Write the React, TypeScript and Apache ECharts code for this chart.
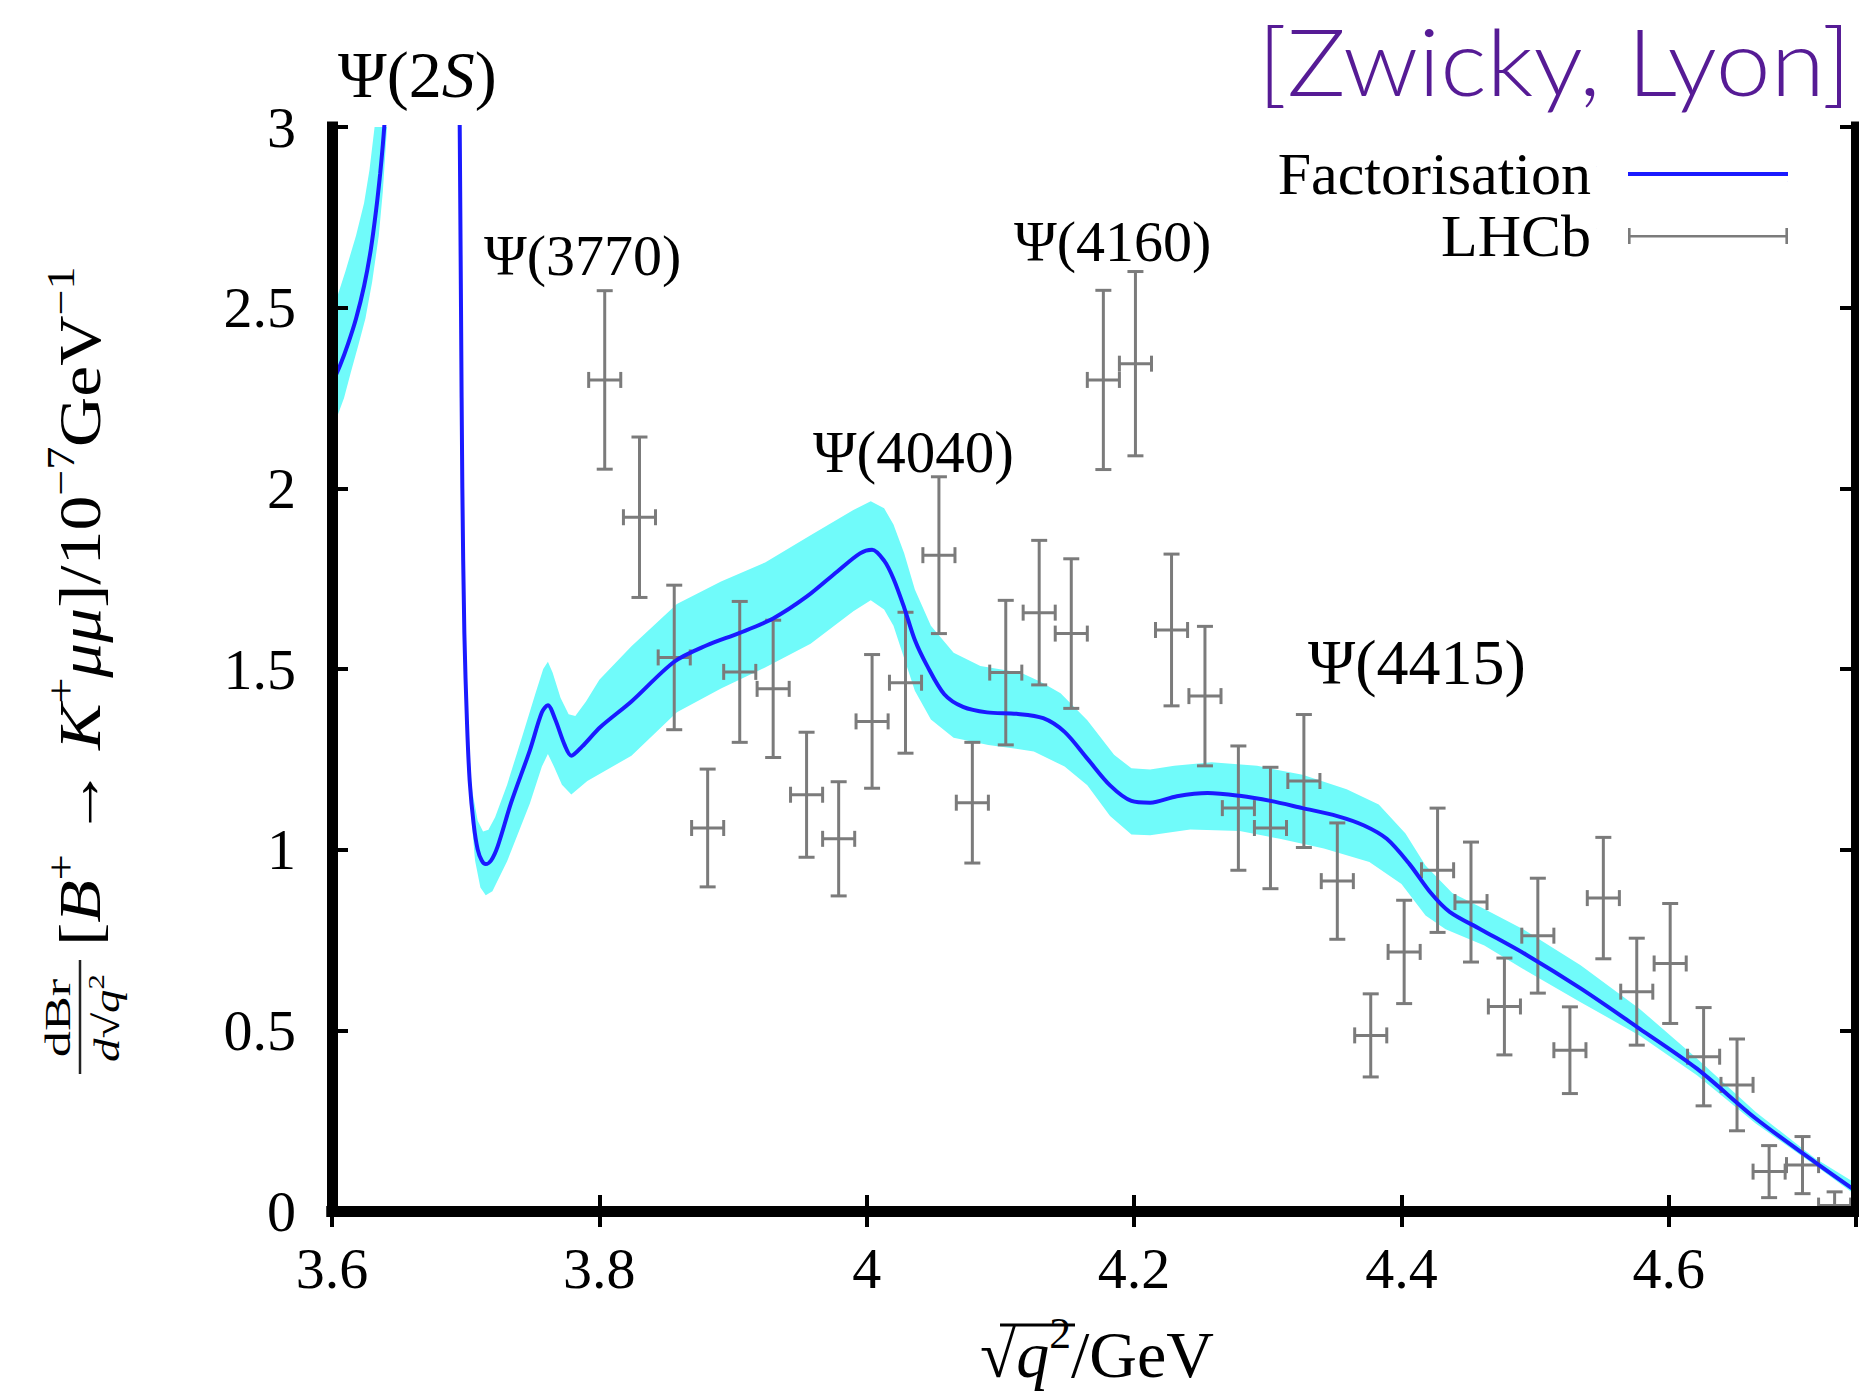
import React, { useEffect, useRef } from 'react';
import * as echarts from 'echarts';

// ---------- data ----------
// LHCb B+ -> K+ mu mu, binned in sqrt(q^2) [GeV]; rate in 1e-7 GeV^-1
const lhcbMass = [
  3.804, 3.830, 3.856, 3.881, 3.905, 3.930, 3.955, 3.979, 4.004, 4.029,
  4.054, 4.079, 4.104, 4.129, 4.153, 4.177, 4.201, 4.228, 4.253, 4.278,
  4.302, 4.327, 4.352, 4.377, 4.402, 4.427, 4.452, 4.477, 4.502, 4.526,
  4.551, 4.576, 4.601, 4.626, 4.651, 4.675, 4.700, 4.724,
];
const lhcbRate = [
  2.30, 1.92, 1.532, 1.06, 1.492, 1.445, 1.152, 1.03, 1.355, 1.462,
  1.815, 1.13, 1.49, 1.656, 1.598, 2.30, 2.345, 1.608, 1.425, 1.115,
  1.06, 1.19, 0.913, 0.486, 0.717, 0.943, 0.855, 0.566, 0.762, 0.445,
  0.866, 0.607, 0.685, 0.427, 0.349, 0.109, 0.127, 0.015,
];
const lhcbErr = [
  0.247, 0.222, 0.2, 0.163, 0.195, 0.19, 0.173, 0.158, 0.185, 0.195,
  0.217, 0.167, 0.2, 0.2, 0.207, 0.248, 0.255, 0.21, 0.193, 0.172,
  0.168, 0.184, 0.161, 0.115, 0.143, 0.172, 0.166, 0.134, 0.159, 0.12,
  0.168, 0.148, 0.166, 0.136, 0.127, 0.072, 0.079, 0.038,
];
const lhcbHalfBin = 0.012;

// Factorisation prediction, below and above the psi(2S) pole
const curveBelowPsi2S: [number, number][] = [
  [3.600, 2.29], [3.606, 2.34], [3.612, 2.40], [3.618, 2.47], [3.624, 2.56],
  [3.629, 2.66], [3.633, 2.77], [3.636, 2.87], [3.638, 2.95], [3.6395, 3.02],
];
const curveAbovePsi2S: [number, number][] = [
  [3.6955, 3.02], [3.6965, 2.5], [3.6975, 2.0], [3.699, 1.6], [3.701, 1.35],
  [3.703, 1.19], [3.706, 1.07], [3.709, 1.0], [3.712, 0.97], [3.715, 0.96],
  [3.719, 0.97], [3.724, 1.01], [3.734, 1.13], [3.748, 1.275], [3.757, 1.38],
  [3.7615, 1.40], [3.767, 1.36], [3.774, 1.29], [3.779, 1.26], [3.787, 1.285],
  [3.801, 1.34], [3.824, 1.41], [3.856, 1.52], [3.880, 1.565], [3.905, 1.60],
  [3.930, 1.64], [3.955, 1.70], [3.978, 1.77], [3.995, 1.82], [4.004, 1.83],
  [4.013, 1.80], [4.020, 1.75], [4.028, 1.67], [4.036, 1.58], [4.045, 1.51],
  [4.058, 1.43], [4.072, 1.395], [4.090, 1.38], [4.112, 1.376], [4.132, 1.364],
  [4.148, 1.326], [4.165, 1.252], [4.182, 1.178], [4.198, 1.135], [4.212, 1.13],
  [4.232, 1.148], [4.255, 1.157], [4.279, 1.149], [4.302, 1.135], [4.326, 1.115],
  [4.352, 1.093], [4.372, 1.067], [4.389, 1.03], [4.406, 0.96], [4.422, 0.88],
  [4.436, 0.828], [4.459, 0.78], [4.493, 0.71], [4.534, 0.616], [4.578, 0.505],
  [4.621, 0.394], [4.665, 0.256], [4.709, 0.136], [4.742, 0.05],
];

// Uncertainty band edges
const bandLeftUpper: [number, number][] = [
  [3.599, 2.49], [3.603, 2.52], [3.610, 2.60], [3.618, 2.70], [3.624, 2.79],
  [3.628, 2.88], [3.6325, 3.02],
];
const bandLeftLower: [number, number][] = [
  [3.599, 2.14], [3.603, 2.19], [3.609, 2.25], [3.614, 2.32], [3.620, 2.40],
  [3.625, 2.47], [3.630, 2.57], [3.635, 2.70], [3.638, 2.82], [3.6415, 3.02],
];
const bandUpper: [number, number][] = [
  [3.7015, 1.30], [3.705, 1.16], [3.709, 1.08], [3.713, 1.05], [3.717, 1.055],
  [3.722, 1.09], [3.731, 1.18], [3.742, 1.31], [3.752, 1.43], [3.758, 1.50],
  [3.7615, 1.52], [3.765, 1.49], [3.771, 1.42], [3.777, 1.375], [3.782, 1.37],
  [3.790, 1.41], [3.800, 1.47], [3.824, 1.563], [3.858, 1.68], [3.891, 1.742],
  [3.924, 1.795], [3.958, 1.87], [3.990, 1.94], [4.003, 1.964], [4.013, 1.945],
  [4.020, 1.90], [4.028, 1.82], [4.036, 1.72], [4.048, 1.62], [4.065, 1.545],
  [4.085, 1.508], [4.115, 1.49], [4.130, 1.465], [4.145, 1.433], [4.165, 1.358],
  [4.185, 1.263], [4.198, 1.225], [4.212, 1.222], [4.230, 1.232], [4.258, 1.242],
  [4.292, 1.232], [4.326, 1.207], [4.359, 1.167], [4.383, 1.125], [4.403, 1.045],
  [4.418, 0.956], [4.438, 0.88], [4.462, 0.836], [4.491, 0.78], [4.534, 0.68],
  [4.578, 0.56], [4.621, 0.422], [4.665, 0.274], [4.709, 0.147], [4.745, 0.065],
];
const bandLower: [number, number][] = [
  [3.7015, 1.30], [3.704, 1.10], [3.707, 0.97], [3.711, 0.895], [3.715, 0.874],
  [3.720, 0.885], [3.731, 0.968], [3.748, 1.128], [3.757, 1.23], [3.7615, 1.265],
  [3.766, 1.23], [3.772, 1.18], [3.779, 1.153], [3.791, 1.19], [3.824, 1.26],
  [3.858, 1.38], [3.891, 1.446], [3.924, 1.504], [3.958, 1.57], [3.990, 1.66],
  [4.003, 1.69], [4.013, 1.665], [4.020, 1.62], [4.028, 1.53], [4.036, 1.44],
  [4.048, 1.36], [4.065, 1.31], [4.091, 1.29], [4.125, 1.272], [4.148, 1.23],
  [4.165, 1.178], [4.182, 1.093], [4.198, 1.042], [4.212, 1.04], [4.242, 1.056],
  [4.279, 1.052], [4.309, 1.03], [4.342, 1.003], [4.376, 0.966], [4.400, 0.905],
  [4.418, 0.818], [4.433, 0.78], [4.462, 0.735], [4.491, 0.67], [4.534, 0.578],
  [4.578, 0.486], [4.621, 0.376], [4.665, 0.242], [4.709, 0.127], [4.745, 0.03],
];

const resonanceLabels = ['Ψ(2S)', 'Ψ(3770)', 'Ψ(4040)', 'Ψ(4160)', 'Ψ(4415)'];

// ---------- styles ----------
const SERIF = '"Liberation Serif", "DejaVu Serif", serif';
const BLUE = '#1a1aff';
const CYAN = '#70fbfa';
const GREY = '#7b7b7b';
const FRAME = 11;
const X_MIN = 3.6;
const X_MAX = 4.74;

const bandSegments = [
  { upper: bandLeftUpper, lower: bandLeftLower },
  { upper: bandUpper, lower: bandLower },
];

const serifText = (text: string, x: number, y: number, size: number, extra: any = {}, el: any = {}) => ({
  type: 'text',
  x,
  y,
  ...el,
  style: {
    text,
    fontFamily: SERIF,
    fontSize: size,
    fill: '#000',
    align: 'left',
    verticalAlign: 'middle',
    ...extra,
  },
});

const mathRich = (size: number) => ({
  n: { fontFamily: SERIF, fontSize: size, lineHeight: size * 1.3, fill: '#000' },
  i: { fontFamily: SERIF, fontSize: size, fontStyle: 'italic', lineHeight: size * 1.3, fill: '#000' },
  s: { fontFamily: SERIF, fontSize: size * 0.66, lineHeight: size * 0.66, verticalAlign: 'top', fill: '#000' },
});

function buildOption() {
  const tickStyle = { show: true, inside: true, length: 16, lineStyle: { color: '#000', width: 4 } };
  const frameLine = { show: true, lineStyle: { color: '#000', width: FRAME, cap: 'square' } };

  return {
    animation: false,
    backgroundColor: '#fff',
    grid: { left: 332, top: 127, width: 1524, height: 1084, containLabel: false },
    xAxis: [
      {
        type: 'value',
        min: X_MIN,
        max: X_MAX,
        interval: 0.2,
        z: 10,
        axisLine: frameLine,
        axisTick: tickStyle,
        splitLine: { show: false },
        axisLabel: {
          margin: 28,
          fontFamily: SERIF,
          fontSize: 58,
          color: '#000',
          showMaxLabel: false,
        },
      },
      {
        type: 'value',
        position: 'top',
        min: X_MIN,
        max: X_MAX,
        interval: 0.2,
        z: 10,
        axisLine: frameLine,
        axisTick: tickStyle,
        splitLine: { show: false },
        axisLabel: { show: false },
      },
    ],
    yAxis: [
      {
        type: 'value',
        min: 0,
        max: 3,
        interval: 0.5,
        z: 10,
        axisLine: frameLine,
        axisTick: tickStyle,
        splitLine: { show: false },
        axisLabel: { margin: 36, fontFamily: SERIF, fontSize: 58, color: '#000' },
      },
      {
        type: 'value',
        position: 'right',
        min: 0,
        max: 3,
        interval: 0.5,
        z: 10,
        axisLine: frameLine,
        axisTick: tickStyle,
        splitLine: { show: false },
        axisLabel: { show: false },
      },
    ],
    legend: {
      orient: 'vertical',
      right: 66,
      top: 139,
      align: 'right',
      itemWidth: 192,
      itemHeight: 16,
      itemGap: 2,
      itemStyle: { borderWidth: 0 },
      textStyle: { fontFamily: SERIF, fontSize: 60, lineHeight: 52, color: '#000' },
      data: [
        {
          name: 'Factorisation',
          icon: 'path://M0,0h0.2v0.2h-0.2z M32,6h160v4h-160z M191.8,15.8h0.2v0.2h-0.2z',
        },
        {
          name: 'LHCb',
          icon: 'path://M0,0h0.2v0.2h-0.2z M32,7h160v2.4h-160z M32,0h2.6v16h-2.6z M189.4,0h2.6v16h-2.6z',
        },
      ],
    },
    series: [
      {
        type: 'custom',
        name: 'band',
        z: 1,
        clip: true,
        silent: true,
        data: bandSegments.map((s) => s.upper[1]),
        renderItem: (params: any, api: any) => {
          const seg = bandSegments[params.dataIndex];
          const pts = [...seg.upper, ...seg.lower.slice().reverse()].map((p) => api.coord(p));
          return { type: 'polygon', shape: { points: pts }, style: { fill: CYAN } };
        },
      },
      {
        type: 'custom',
        name: 'LHCb',
        z: 3,
        clip: true,
        itemStyle: { color: GREY },
        data: lhcbMass.map((m, i) => [m, lhcbRate[i], lhcbErr[i]]),
        renderItem: (_params: any, api: any) => {
          const x = api.value(0);
          const y = api.value(1);
          const e = api.value(2);
          const c = api.coord([x, y]);
          const top = api.coord([x, y + e]);
          const bot = api.coord([x, y - e]);
          const l = api.coord([x - lhcbHalfBin, y]);
          const r = api.coord([x + lhcbHalfBin, y]);
          const cap = 8;
          const style = { stroke: GREY, lineWidth: 3 };
          const seg = (x1: number, y1: number, x2: number, y2: number) => ({
            type: 'line',
            shape: { x1, y1, x2, y2 },
            style,
          });
          return {
            type: 'group',
            children: [
              seg(top[0], top[1], bot[0], bot[1]),
              seg(l[0], c[1], r[0], c[1]),
              seg(top[0] - cap, top[1], top[0] + cap, top[1]),
              seg(bot[0] - cap, bot[1], bot[0] + cap, bot[1]),
              seg(l[0], c[1] - cap, l[0], c[1] + cap),
              seg(r[0], c[1] - cap, r[0], c[1] + cap),
            ],
          };
        },
      },
      {
        type: 'line',
        name: 'Factorisation',
        z: 4,
        data: curveBelowPsi2S,
        showSymbol: false,
        smooth: 0.3,
        color: BLUE,
        lineStyle: { color: BLUE, width: 4 },
      },
      {
        type: 'line',
        name: 'Factorisation',
        z: 4,
        data: curveAbovePsi2S,
        showSymbol: false,
        smooth: 0.3,
        color: BLUE,
        lineStyle: { color: BLUE, width: 4 },
      },
    ],
    graphic: [
      // attribution
      {
        type: 'text',
        x: 1851,
        y: 60,
        scaleX: 1.07,
        style: {
          text: '[Zwicky, Lyon]',
          fontFamily: 'Lato, "Open Sans", sans-serif',
          fontWeight: 300,
          fontSize: 92,
          fill: '#561b95',
          align: 'right',
          verticalAlign: 'middle',
        },
      },
      // resonance annotations
      serifText('{n|Ψ(2}{i|S}{n|)}', 338, 74, 66, { rich: mathRich(66) }),
      serifText(resonanceLabels[1], 484, 255, 58),
      serifText(resonanceLabels[2], 813, 452, 59),
      serifText(resonanceLabels[3], 1014, 241, 58),
      serifText(resonanceLabels[4], 1308, 662, 64),
      // x-axis title
      {
        type: 'text',
        x: 1097,
        y: 1354,
        style: {
          text: '{n|√}{i|q}{s|2}{n|/GeV}',
          rich: mathRich(66),
          align: 'center',
          verticalAlign: 'middle',
        },
      },
      {
        type: 'line',
        shape: { x1: 1000, y1: 1325, x2: 1075, y2: 1325 },
        style: { stroke: '#000', lineWidth: 3 },
      },
      // y-axis title, read bottom to top
      {
        type: 'group',
        x: 80,
        y: 1078,
        rotation: Math.PI / 2,
        children: [
          { type: 'line', shape: { x1: 4, y1: 0, x2: 118, y2: 0 }, style: { stroke: '#222', lineWidth: 2.5 } },
          serifText('dBr', 60, -4, 36, { align: 'center', verticalAlign: 'bottom' }, { scaleX: 1.45 }),
          serifText('{i|d}{n|√}{i|q}{s|2}', 60, 4, 36, { align: 'center', verticalAlign: 'top', rich: mathRich(36) }, { scaleX: 1.3 }),
          serifText(
            '{n|[}{i|B}{s|+}{n| → }{i|K}{s|+}{i|μμ}{n|]/10}{s|−7}{n|GeV}{s|−1}',
            132,
            0,
            60,
            { rich: mathRich(60) },
            { scaleX: 1.16 }
          ),
        ],
      },
    ],
  };
}

export default function App() {
  const ref = useRef<HTMLDivElement>(null);
  useEffect(() => {
    if (!ref.current) return;
    const chart = echarts.init(ref.current, undefined, { renderer: 'svg' });
    chart.setOption(buildOption() as any);
    return () => chart.dispose();
  }, []);
  return (
    <div
      ref={ref}
      style={{ position: 'absolute', left: 0, top: 0, width: 1859, height: 1392, background: '#fff' }}
    />
  );
}
